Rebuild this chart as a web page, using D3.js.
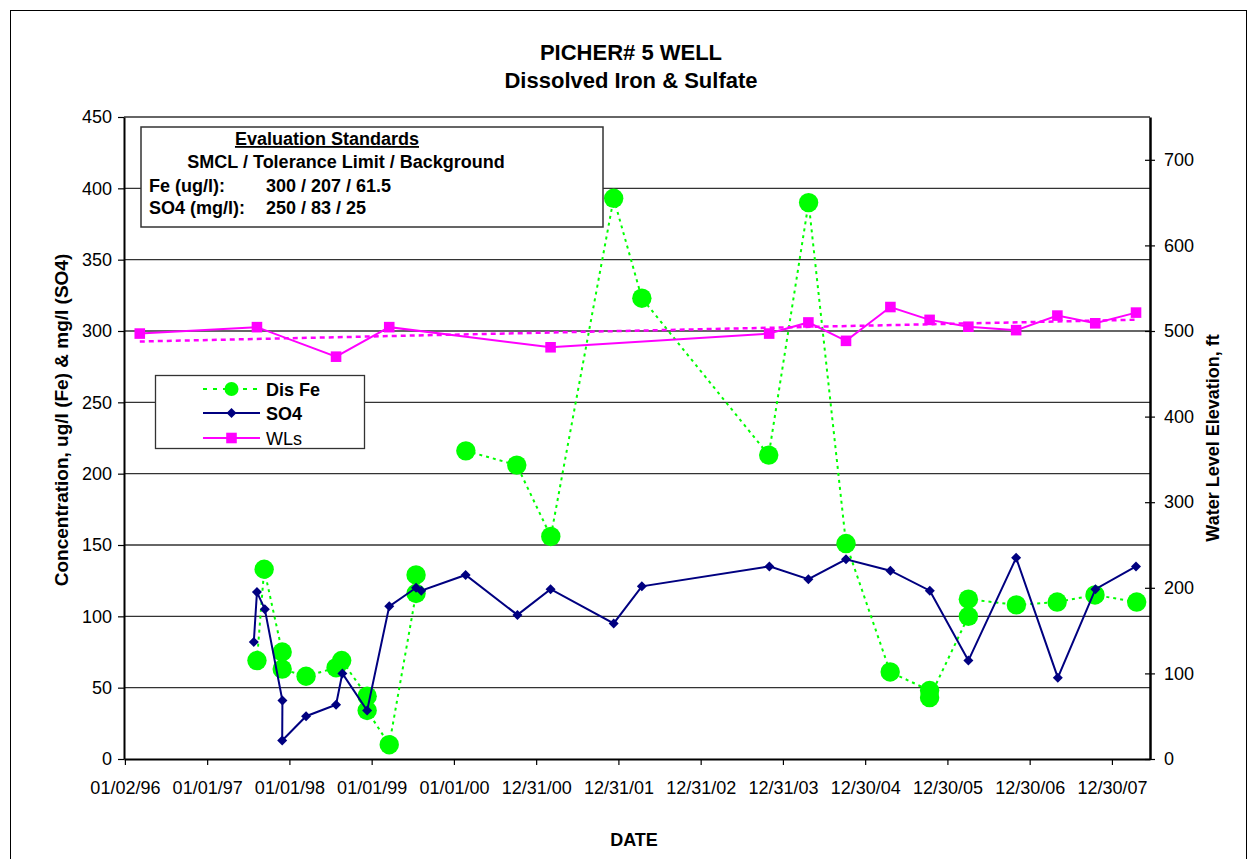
<!DOCTYPE html>
<html><head><meta charset="utf-8">
<script src="https://cdn.jsdelivr.net/npm/d3@7"></script>
<style>
body{margin:0;background:#fff}
svg{display:block}
text{font-family:"Liberation Sans",Arial,Helvetica,sans-serif;fill:#000}
</style>
</head><body>
<svg id="chart" width="1253" height="859"></svg>
<script>
// ---------------- data ----------------
const feDates  = ["1997-08-10","1997-09-11","1997-11-30","1997-11-30","1998-03-16","1998-07-27","1998-08-21","1998-12-12","1998-12-12","1999-03-20","1999-07-17","1999-07-17","1999-08-09","2000-02-23","2000-10-06","2001-03-06","2001-12-10","2002-04-14","2003-10-29","2004-04-23","2004-10-06","2005-04-20","2005-10-12","2005-10-12","2006-04-02","2006-04-02","2006-11-01","2007-05-01","2007-10-16","2008-04-18"];
const feValues = [69,133,75,63,58,64,69,44,34,10,116,129,null,216,206,156,393,323,213,390,151,61,48,43,100,112,108,110,115,110];

const so4Dates  = ["1997-07-27","1997-08-10","1997-09-14","1997-12-01","1997-11-30","1998-03-16","1998-07-27","1998-08-24","1998-12-12","1999-03-20","1999-07-17","1999-08-09","2000-02-22","2000-10-09","2001-03-05","2001-12-10","2002-04-14","2003-11-01","2004-04-22","2004-10-06","2005-04-21","2005-10-13","2006-04-02","2006-10-31","2007-05-04","2007-10-18","2008-04-15"];
const so4Values = [82,117,105,41,13,30,38,60,34,107,120,118,129,101,119,95,121,135,126,140,132,118,69,141,57,119,135];

const wlDates  = ["1996-03-08","1997-08-10","1998-07-27","1999-03-20","2001-03-05","2003-10-31","2004-04-22","2004-10-06","2005-04-21","2005-10-12","2006-04-02","2006-10-31","2007-05-02","2007-10-17","2008-04-15"];
const wlValues = [497,504.5,470,504.5,481,497,510,488.5,528,513,505,501,518,509,521.5];

const xTickDates  = ["1996-01-02","1997-01-01","1998-01-01","1999-01-01","2000-01-01","2000-12-31","2001-12-31","2002-12-31","2003-12-31","2004-12-30","2005-12-30","2006-12-30","2007-12-30"];
const xTickLabels = ["01/02/96","01/01/97","01/01/98","01/01/99","01/01/00","12/31/00","12/31/01","12/31/02","12/31/03","12/30/04","12/30/05","12/30/06","12/30/07"];
const xDomain = ["1995-12-29","2008-06-16"];
const leftTicks  = [0,50,100,150,200,250,300,350,400,450];
const rightTicks = [0,100,200,300,400,500,600,700];
const leftMax = 450, rightMax = 750;

const titleLines = ["PICHER# 5 WELL","Dissolved Iron & Sulfate"];
const evalTitle = "Evaluation Standards";
const evalSub = "SMCL / Tolerance Limit / Background";
const evalRows = [["Fe (ug/l):","300 / 207 / 61.5"],["SO4 (mg/l):","250 / 83 / 25"]];
const seriesNames = ["Dis Fe","SO4","WLs"];

// ---------------- layout ----------------
const parse = d3.utcParse("%Y-%m-%d");
const P = {left:124, right:1150, top:117, bottom:759};
const svg = d3.select("#chart");
const FONT = '"Liberation Sans",Arial,sans-serif';

const x  = d3.scaleUtc().domain(xDomain.map(parse)).range([P.left, P.right]);
const yL = d3.scaleLinear().domain([0,leftMax]).range([P.bottom, P.top]);
const yR = d3.scaleLinear().domain([0,rightMax]).range([P.bottom, P.top]);

const fe  = feDates.map((d,i)=>({d:parse(d), v:feValues[i]}));
const so4 = so4Dates.map((d,i)=>({d:parse(d), v:so4Values[i]}));
const wl  = wlDates.map((d,i)=>({d:parse(d), v:wlValues[i]}));

// outer frame
svg.append("rect").attr("x",10.5).attr("y",10.5).attr("width",1236).attr("height",900)
  .attr("fill","#fff").attr("stroke","#000").attr("stroke-width",1);

// titles
svg.selectAll("text.title").data(titleLines).enter().append("text")
  .attr("class","title").attr("x",631).attr("y",(d,i)=>60+i*28)
  .attr("text-anchor","middle").attr("font-size",22).attr("font-weight","bold").text(d=>d);

// gridlines
svg.append("g").selectAll("line").data(leftTicks.filter(t=>t>0)).enter().append("line")
  .attr("x1",P.left).attr("x2",P.right).attr("y1",d=>yL(d)).attr("y2",d=>yL(d))
  .attr("stroke","#333").attr("stroke-width",1.3);

// axes
const gL = svg.append("g").attr("transform",`translate(${P.left},0)`)
  .call(d3.axisLeft(yL).tickValues(leftTicks).tickSize(6).tickPadding(6).tickSizeOuter(0));
const gR = svg.append("g").attr("transform",`translate(${P.right},0)`)
  .call(d3.axisRight(yR).tickValues(rightTicks).tickSize(5).tickPadding(9).tickSizeOuter(0));
gR.selectAll(".tick line").attr("x1",-5).attr("x2",5);
const gB = svg.append("g").attr("transform",`translate(0,${P.bottom})`)
  .call(d3.axisBottom(x).tickValues(xTickDates.map(parse)).tickFormat((d,i)=>xTickLabels[i])
    .tickSize(6).tickPadding(16).tickSizeOuter(0));
[gL,gR,gB].forEach(g=>{
  g.selectAll("text").attr("font-size",18).attr("font-family",FONT).attr("fill","#000");
  g.selectAll(".tick line").attr("stroke","#000").attr("stroke-width",1.2);
  g.select(".domain").attr("stroke","#000").attr("stroke-width",2);
});
gR.select(".domain").attr("stroke-width",2.5);

// axis titles
svg.append("text").attr("transform","translate(68,420) rotate(-90)").attr("text-anchor","middle")
  .attr("font-size",19).attr("font-weight","bold").text("Concentration, ug/l (Fe) & mg/l (SO4)");
svg.append("text").attr("transform","translate(1219,438) rotate(-90)").attr("text-anchor","middle")
  .attr("font-size",18).attr("font-weight","bold").text("Water Level Elevation, ft");
svg.append("text").attr("x",634).attr("y",846).attr("text-anchor","middle")
  .attr("font-size",18).attr("font-weight","bold").text("DATE");

// series
const GREEN="#00ff00", NAVY="#000080", MAG="#ff00ff";
const feLine = d3.line().defined(d=>d.v!=null).x(d=>x(d.d)).y(d=>yL(d.v));
svg.append("path").datum(fe).attr("d",feLine).attr("fill","none")
  .attr("stroke",GREEN).attr("stroke-width",2).attr("stroke-dasharray","3,4");
svg.append("g").selectAll("circle").data(fe.filter(d=>d.v!=null)).enter().append("circle")
  .attr("cx",d=>x(d.d)).attr("cy",d=>yL(d.v)).attr("r",9.7).attr("fill",GREEN);

const so4Line = d3.line().x(d=>x(d.d)).y(d=>yL(d.v));
svg.append("path").datum(so4).attr("d",so4Line).attr("fill","none")
  .attr("stroke",NAVY).attr("stroke-width",2);
const diamond = d3.symbol().type(d3.symbolSquare).size(50);
svg.append("g").selectAll("path").data(so4).enter().append("path")
  .attr("d",diamond).attr("fill",NAVY)
  .attr("transform",d=>`translate(${x(d.d)},${yL(d.v)}) rotate(45)`);

// WL trend (least squares)
const tx = wl.map(d=>+d.d), ty = wl.map(d=>d.v);
const mx = d3.mean(tx), my = d3.mean(ty);
const slope = d3.sum(tx.map((t,i)=>(t-mx)*(ty[i]-my))) / d3.sum(tx.map(t=>(t-mx)*(t-mx)));
const trend = [wl[0].d, wl[wl.length-1].d].map(d=>({d, v: my + slope*(+d-mx)}));
const wlLine = d3.line().x(d=>x(d.d)).y(d=>yR(d.v));
svg.append("path").datum(wl).attr("d",wlLine).attr("fill","none")
  .attr("stroke",MAG).attr("stroke-width",2);
const square = d3.symbol().type(d3.symbolSquare).size(112);
svg.append("g").selectAll("path").data(wl).enter().append("path")
  .attr("d",square).attr("fill",MAG)
  .attr("transform",d=>`translate(${x(d.d)},${yR(d.v)})`);
svg.append("path").datum(trend).attr("d",wlLine).attr("fill","none")
  .attr("stroke",MAG).attr("stroke-width",2.5).attr("stroke-dasharray","5,4");

// evaluation standards box
const eb = svg.append("g");
eb.append("rect").attr("x",141).attr("y",127).attr("width",462).attr("height",100)
  .attr("fill","#fff").attr("stroke","#333").attr("stroke-width",1.5);
eb.append("text").attr("x",327).attr("y",145).attr("text-anchor","middle")
  .attr("font-size",18).attr("font-weight","bold").attr("text-decoration","underline").text(evalTitle);
eb.append("text").attr("x",346).attr("y",168).attr("text-anchor","middle")
  .attr("font-size",18).attr("font-weight","bold").text(evalSub);
evalRows.forEach((r,i)=>{
  eb.append("text").attr("x",149).attr("y",192+i*22).attr("font-size",18).attr("font-weight","bold").text(r[0]);
  eb.append("text").attr("x",266).attr("y",192+i*22).attr("font-size",18).attr("font-weight","bold").text(r[1]);
});

// legend
const lg = svg.append("g");
lg.append("rect").attr("x",155.5).attr("y",375.5).attr("width",209).attr("height",73)
  .attr("fill","#fff").attr("stroke","#333").attr("stroke-width",1.3);
const rowsY = [389,413,438];
// Dis Fe
lg.append("line").attr("x1",203).attr("x2",260).attr("y1",rowsY[0]).attr("y2",rowsY[0])
  .attr("stroke",GREEN).attr("stroke-width",2).attr("stroke-dasharray","4,6");
lg.append("circle").attr("cx",231.5).attr("cy",rowsY[0]).attr("r",7).attr("fill",GREEN);
// SO4
lg.append("line").attr("x1",203).attr("x2",260).attr("y1",rowsY[1]).attr("y2",rowsY[1])
  .attr("stroke",NAVY).attr("stroke-width",2);
lg.append("path").attr("d",diamond).attr("fill",NAVY).attr("transform",`translate(231.5,${rowsY[1]}) rotate(45)`);
// WLs
lg.append("line").attr("x1",203).attr("x2",260).attr("y1",rowsY[2]).attr("y2",rowsY[2])
  .attr("stroke",MAG).attr("stroke-width",2);
lg.append("path").attr("d",square).attr("fill",MAG).attr("transform",`translate(231.5,${rowsY[2]})`);
seriesNames.forEach((n,i)=>{
  lg.append("text").attr("x",266).attr("y",rowsY[i]+6.5).attr("font-size",18)
    .attr("font-weight",i<2?"bold":"normal").text(n);
});
</script>
</body></html>
